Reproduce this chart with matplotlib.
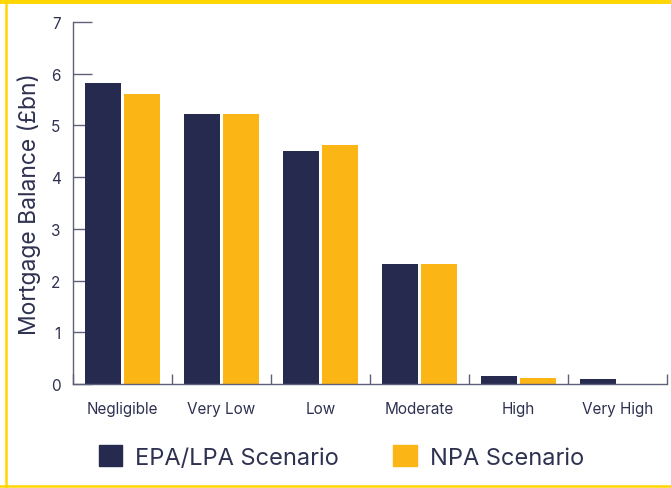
import numpy as np
import matplotlib.pyplot as plt
from matplotlib.lines import Line2D
from matplotlib.patches import Patch

categories = ['Negligible', 'Very Low', 'Low', 'Moderate', 'High', 'Very High']
epa_lpa = [5.82, 5.22, 4.50, 2.32, 0.15, 0.10]
npa = [5.61, 5.22, 4.62, 2.32, 0.12, 0.0]
series_names = ['EPA/LPA Scenario', 'NPA Scenario']

navy = '#262a4f'
gold = '#fbb616'
text_col = '#2e3150'
spine_col = '#5d6079'

plt.rcParams['font.family'] = ['Inter', 'DejaVu Sans']

fig = plt.figure(figsize=(6.71, 4.89), dpi=100)
ax = fig.add_axes([73 / 671, 1 - 385 / 489, 594 / 671, 362 / 489])

x = np.arange(len(categories))
w = 0.36
ax.bar(x - 0.2, epa_lpa, w, color=navy, zorder=2)
ax.bar(x + 0.2, npa, w, color=gold, zorder=2)

ax.set_xlim(-0.5, len(categories) - 0.5)
ax.set_ylim(0, 7)

# category labels in the middle, tick marks on the boundaries
ax.set_xticks(x)
ax.set_xticklabels(categories, fontsize=11, color=text_col)
ax.tick_params(axis='x', which='major', length=0, pad=12)
ax.set_xticks(np.arange(len(categories) + 1) - 0.5, minor=True)
ax.tick_params(axis='x', which='minor', direction='in', length=7,
               color=spine_col, width=1)

ax.set_yticks(range(0, 8))
ax.tick_params(axis='y', direction='in', length=14, color=spine_col,
               width=1, labelsize=11, labelcolor=text_col, pad=9)
ax.set_ylabel('Mortgage Balance (£bn)', fontsize=16.5, color=text_col, labelpad=7)

for s in ['top', 'right']:
    ax.spines[s].set_visible(False)
for s in ['left', 'bottom']:
    ax.spines[s].set_color(spine_col)
    ax.spines[s].set_linewidth(1)

handles = [Patch(color=navy), Patch(color=gold)]
fig.legend(handles, series_names, loc='center',
           bbox_to_anchor=(0.5 + 6 / 671, 1 - 458 / 489),
           ncol=2, frameon=False, fontsize=17, labelcolor=text_col,
           handlelength=1.0, handleheight=1.0, handletextpad=0.55,
           columnspacing=2.3)

# yellow frame
border = '#ffd600'
fig.add_artist(Line2D([0, 1], [1 - 2 / 489, 1 - 2 / 489], color=border, lw=3.5,
                      transform=fig.transFigure))
fig.add_artist(Line2D([6 / 671, 6 / 671], [0, 1], color=border, lw=1.8,
                      transform=fig.transFigure))
fig.add_artist(Line2D([0, 1], [1 - 487 / 489, 1 - 487 / 489], color=border, lw=1.8,
                      transform=fig.transFigure))

fig.savefig('out.png', dpi=100)
